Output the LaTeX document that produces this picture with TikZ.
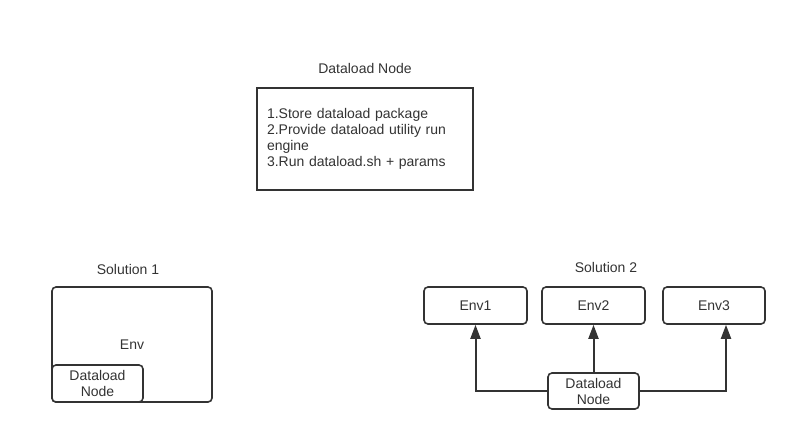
\documentclass[tikz,border=0pt]{standalone}
\usepackage{fontspec}
\setmainfont{Liberation Sans}
\usepackage{xcolor}
\usepackage{tikz}
\usetikzlibrary{arrows.meta,positioning}
\definecolor{traco}{HTML}{333333}
\tikzset{
    bloco/.style={
        rectangle,
        draw=traco,
        line width=1.6pt,
        rounded corners=4pt,
        align=center,
        fill=white,
        text=traco
    },
    caixaEnv/.style={bloco, minimum width=103pt, minimum height=37pt},
    caixaNo/.style={bloco, minimum width=91pt, minimum height=37pt},
    titulo/.style={text=traco, inner sep=0pt},
    fluxo/.style={-{Triangle[length=14pt, width=10pt]}, line width=2pt, draw=traco}
}

\begin{document}
\begin{tikzpicture}[x=1pt, y=-1pt, font=\fontsize{14}{16}\selectfont]
        \useasboundingbox (0,0) rectangle (797,442);
        % no de carga principal
        \node[titulo] (tituloNo) at (365,68) {Dataload Node};
        \node[bloco, rounded corners=0pt, minimum width=216pt, minimum height=102pt,
              text width=196pt, inner xsep=10pt, align=left] (dataload) at (365,139)
            {1.Store dataload package\\2.Provide dataload utility run\\engine\\3.Run dataload.sh + params};
        % solucao 1
        \node[titulo] (tituloSol1) at (128,269) {Solution 1};
        \node[bloco, minimum width=160pt, minimum height=115pt] (env) at (132,344.5) {Env};
        \node[caixaNo, anchor=south west] (noSol1) at (env.south west)
            {Dataload\\Node};
        % solucao 2
        \node[titulo] (tituloSol2) at (606,267) {Solution 2};
        \node[caixaEnv] (env1) at (475.5,305.5) {Env1};
        \node[caixaEnv] (env2) at (593.5,305.5) {Env2};
        \node[caixaEnv, minimum width=102pt] (env3) at (714,305.5) {Env3};
        \node[caixaNo, minimum height=36pt] (noSol2) at (593.5,391) {Dataload\\Node};
        \draw[fluxo] (noSol2.west) -| (env1.south);
        \draw[fluxo] (noSol2.north) -- (env2.south);
        \draw[fluxo] (noSol2.east) -| ([xshift=12pt]env3.south);
    \end{tikzpicture}
\end{document}
